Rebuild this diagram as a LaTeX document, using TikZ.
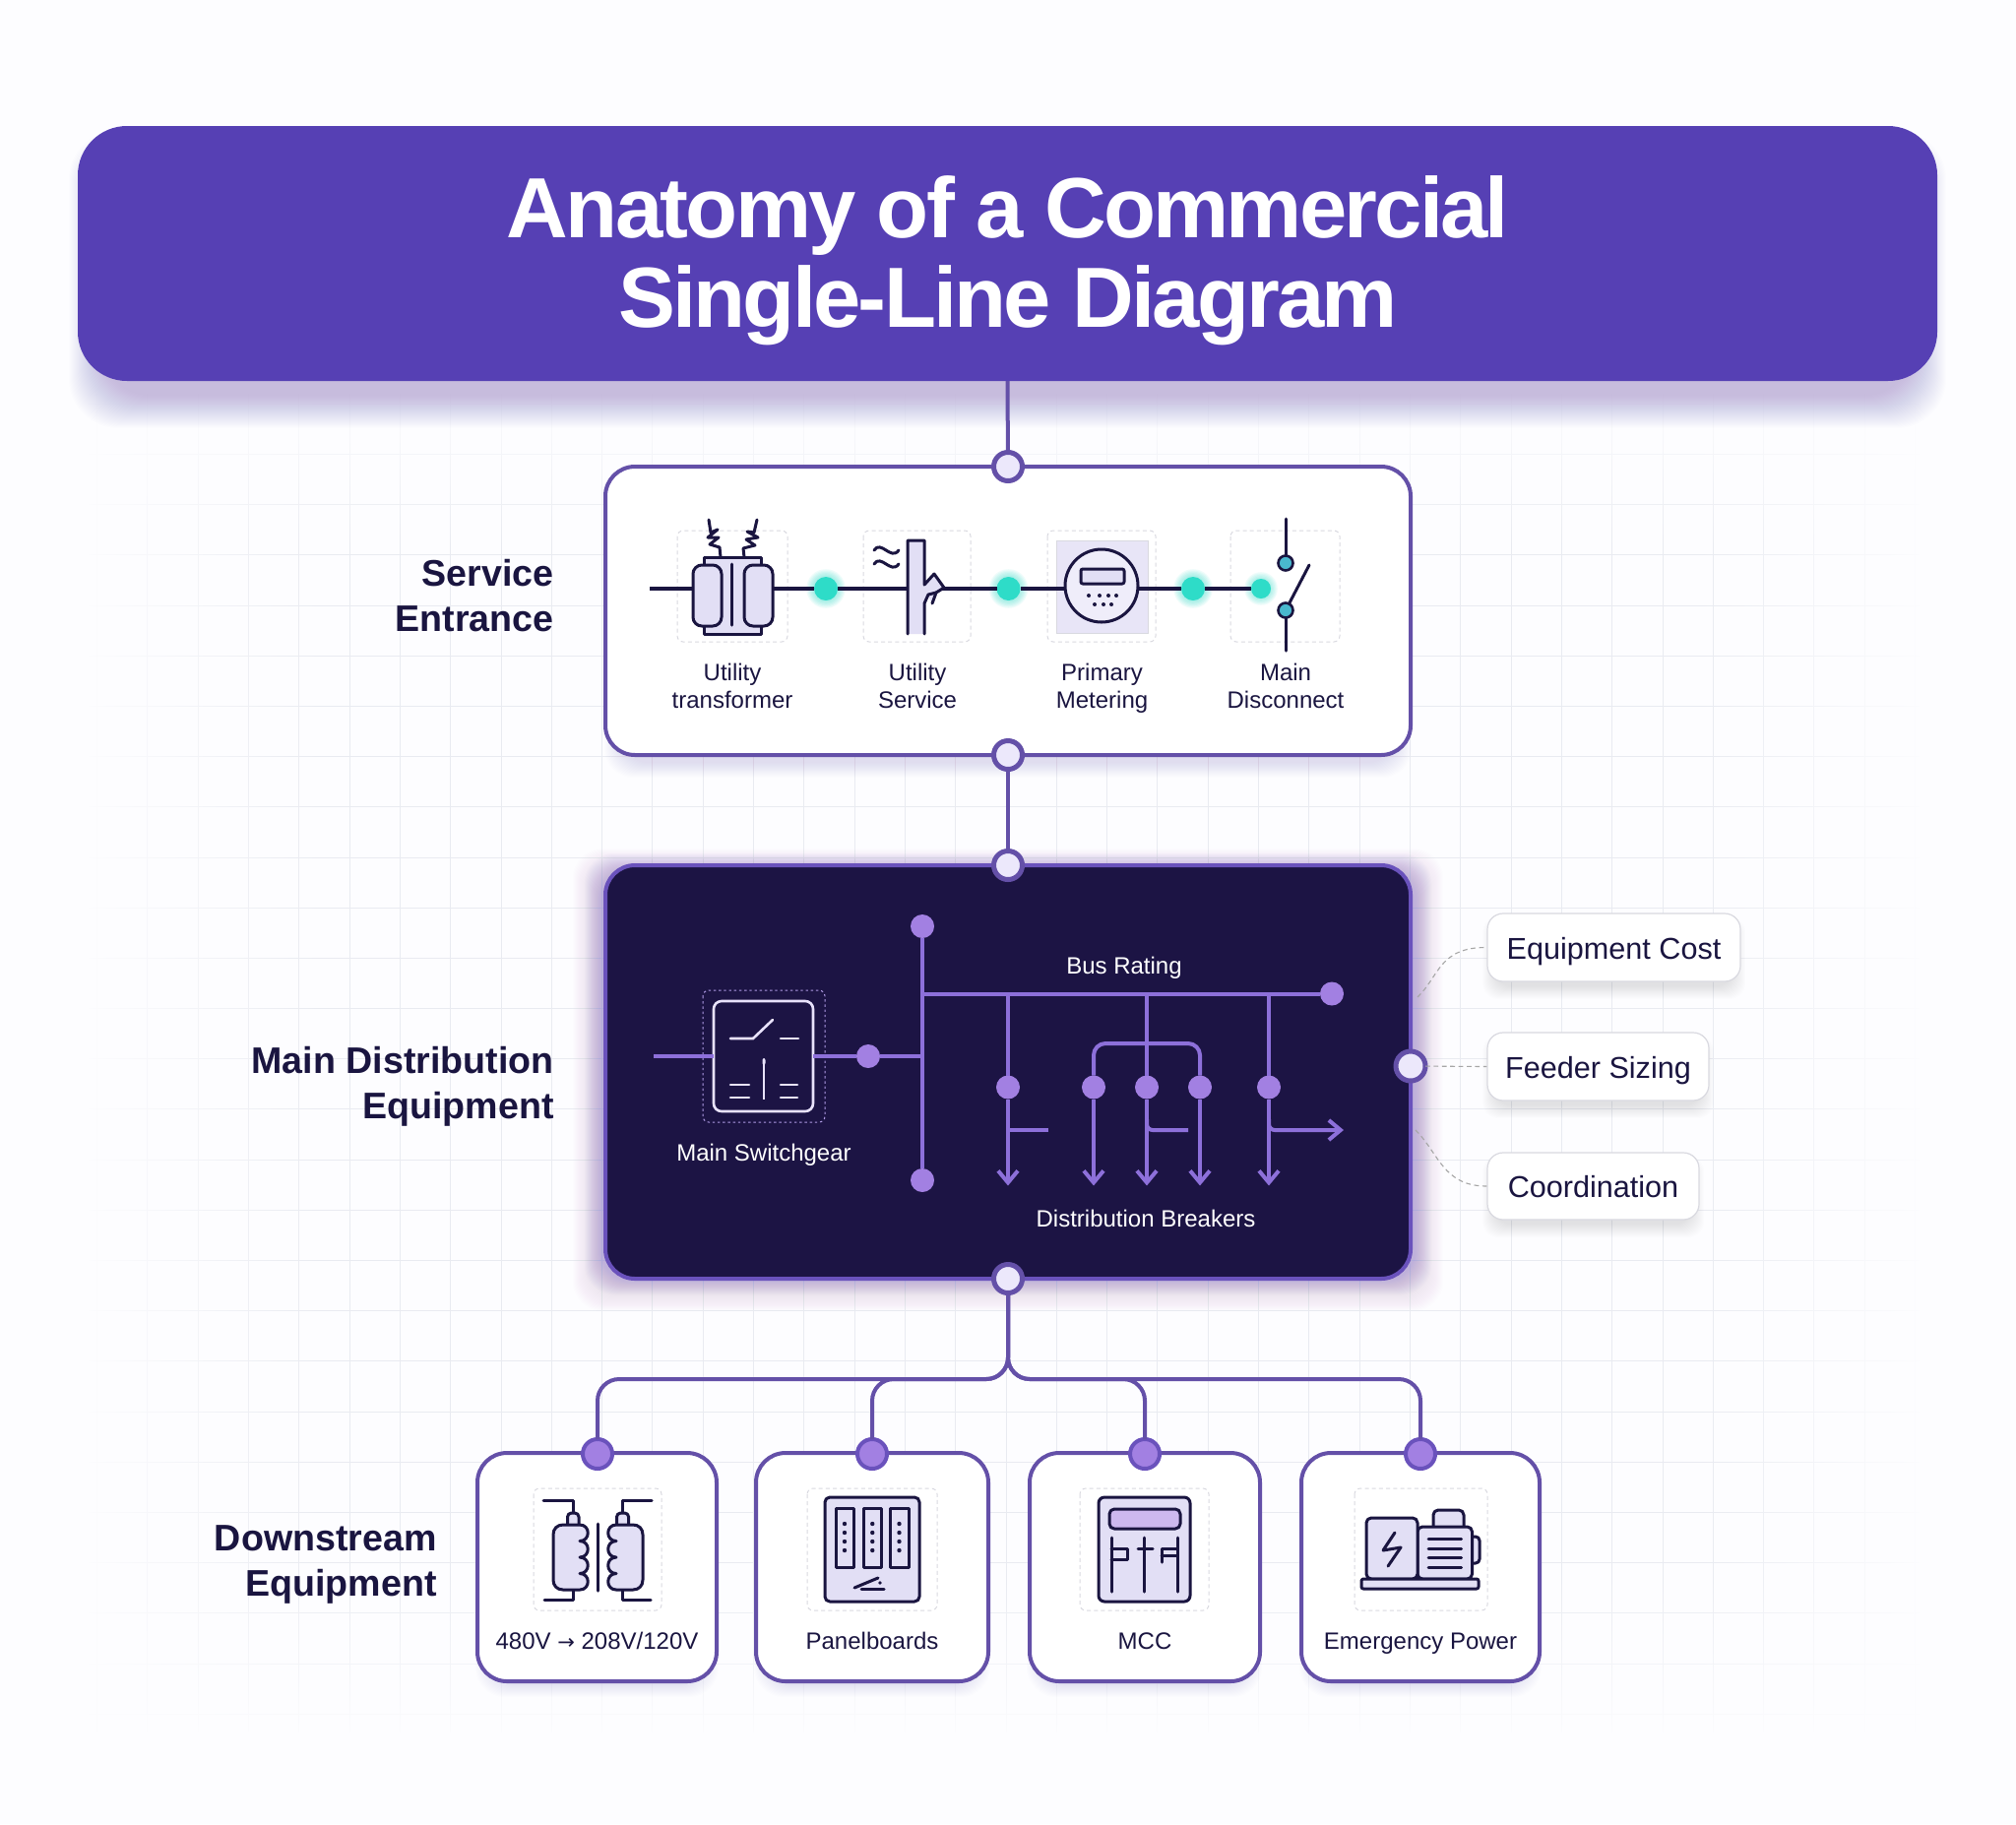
\documentclass[tikz,border=0pt]{standalone}
\usepackage{fontspec}
\setmainfont{Liberation Sans}
\newfontfamily\titlefont[LetterSpace=-3.2]{Liberation Sans Bold}
\newfontfamily\arrowfont{DejaVu Sans}
\usetikzlibrary{arrows.meta,fadings,calc}
\definecolor{PageBg}{HTML}{FDFDFF}
\definecolor{GridC}{HTML}{E9EBF1}
\definecolor{TitleC}{HTML}{5640B4}
\definecolor{Ink}{HTML}{1A1540}
\definecolor{Edge}{HTML}{6450A8}
\definecolor{EdgeB}{HTML}{6A52BC}
\definecolor{DarkC}{HTML}{1C1444}
\definecolor{Plum}{HTML}{8D70DA}
\definecolor{DotC}{HTML}{A280E2}
\definecolor{Lilac}{HTML}{E2DFF5}
\definecolor{LilacB}{HTML}{EFEDFA}
\definecolor{Teal}{HTML}{2EDCC8}
\definecolor{SkyC}{HTML}{49B8CE}
\definecolor{FrameC}{HTML}{D9D9E0}
\definecolor{PortC}{HTML}{ECE8FB}
\definecolor{SoftW}{HTML}{E8E2FB}
\definecolor{BarC}{HTML}{CDB8EF}
\tikzset{
  x=0.5pt,y=-0.5pt,
  panel/.style={rectangle,draw=Edge,fill=white,line width=2pt,rounded corners=15pt,inner sep=0pt,outer sep=0pt},
  chip/.style={rectangle,draw=FrameC,fill=white,line width=.6pt,rounded corners=8pt,inner sep=0pt,text=Ink,text height=17.3pt,text depth=5.5pt,font=\fontsize{15.3}{18}\selectfont},
  port/.style={circle,fill=PortC,draw=Edge,line width=2.5pt,minimum size=14.5pt,inner sep=0pt,outer sep=0pt},
  dport/.style={circle,fill=DotC,draw=EdgeB,line width=2pt,minimum size=15pt,inner sep=0pt,outer sep=0pt},
  tealdot/.style={circle,fill=Teal,minimum size=12pt,inner sep=0pt,outer sep=0pt},
  pdot/.style={circle,fill=DotC,minimum size=12pt,inner sep=0pt,outer sep=0pt},
  wire/.style={draw=Ink,line width=1.6pt},
  pline/.style={draw=Plum,line width=2pt},
  treeline/.style={draw=Edge,line width=2pt},
  icon/.style={draw=Ink,line width=1.5pt,line join=round,line cap=round},
  iconfill/.style={icon,fill=Lilac},
  softline/.style={draw=SoftW,line width=1.3pt,line cap=round},
  frame/.style={draw=FrameC,line width=.5pt,dash pattern=on 2pt off 1.6pt,rounded corners=3pt},
  lead/.style={draw=black!35!white,line width=.55pt,dash pattern=on 2.4pt off 1.8pt},
  slabel/.style={inner sep=0pt,text=Ink,align=center,font=\fontsize{12}{14}\selectfont},
  dlabel/.style={inner sep=0pt,text=white,align=center,font=\fontsize{12}{14}\selectfont},
  sechead/.style={inner sep=0pt,text=Ink,align=right,anchor=east,font=\fontsize{18.8}{23}\selectfont\bfseries},
}
\newcommand{\softbox}[9]{%
  \foreach \k in {1,...,#7}{%
    \path[fill=#6,fill opacity=#8,rounded corners=#5pt]
      ({#1-\k},{#2-\k+#9}) rectangle ({#3+\k},{#4+\k+#9});}}
\newcommand{\halo}[4]{%
  \foreach \k in {1,...,6}{\path[fill=#4,fill opacity=.08] (#1,#2) circle ({#3+\k*1.3});}}
\newcommand{\ls}{\strut}
\begin{document}
\begin{tikzpicture}
\useasboundingbox (0,0) rectangle (2048,1853);
\fill[PageBg] (0,0) rectangle (2048,1853);

% grid
\foreach \k in {-27,...,9}{\pgfmathsetmacro{\gx}{round(1483.3+51.3*\k)+.5}\draw[GridC,line width=.75pt] (\gx,400) -- (\gx,1760);}
\foreach \k in {-10,...,16}{\pgfmathsetmacro{\gy}{round(921.7+51.2*\k)+.5}\draw[GridC,line width=.75pt] (90,\gy) -- (1950,\gy);}
\fill[PageBg,path fading=east] (80,390) rectangle (330,1770);
\fill[PageBg,path fading=west] (1720,390) rectangle (1960,1770);
\fill[PageBg,path fading=south] (80,390) rectangle (1960,560);
\fill[PageBg,path fading=north] (80,1600) rectangle (1960,1770);

% shadows
\softbox{104}{140}{1943}{375}{25}{TitleC}{34}{.006}{26}
\softbox{630}{490}{1418}{760}{15}{Edge}{16}{.009}{14}
\softbox{612}{882}{1436}{1292}{15}{Plum}{30}{.007}{10}
\softbox{610}{880}{1438}{1296}{15}{Plum}{16}{.025}{3}
\softbox{497}{1490}{716}{1700}{15}{Edge}{14}{.009}{10}
\softbox{780}{1490}{992}{1700}{15}{Edge}{14}{.009}{10}
\softbox{1057}{1490}{1268}{1700}{15}{Edge}{14}{.009}{10}
\softbox{1334}{1490}{1552}{1700}{15}{Edge}{14}{.009}{10}
\softbox{1520}{936}{1759}{992}{8}{black}{14}{.006}{9}
\softbox{1520}{1057}{1727}{1113}{8}{black}{14}{.006}{9}
\softbox{1520}{1179}{1717}{1234}{8}{black}{14}{.006}{9}

% title
\node[rectangle,fill=TitleC,rounded corners=25pt,minimum width=944.5pt,minimum height=129.5pt,inner sep=0pt,outer sep=0pt] (title) at (1023.5,257.5) {};
\node[inner sep=0pt,text=white,anchor=base] (titleA) at (1024,241) {\titlefont\fontsize{43.4}{50}\selectfont Anatomy of a Commercial};
\node[inner sep=0pt,text=white,anchor=base] (titleB) at (1024,332) {\titlefont\fontsize{43.4}{50}\selectfont Single-Line Diagram};

% panels
\node[panel,minimum width=409pt,minimum height=146.5pt] (service) at (1024,620.5) {};
\node[panel,draw=EdgeB,fill=DarkC,minimum width=409pt,minimum height=210pt] (main) at (1024,1089) {};
\node[panel,minimum width=121.5pt,minimum height=116pt] (card1) at (606.5,1592) {};
\node[panel,minimum width=118pt,minimum height=116pt] (card2) at (886,1592) {};
\node[panel,minimum width=117pt,minimum height=116pt] (card3) at (1163,1592) {};
\node[panel,minimum width=121pt,minimum height=116pt] (card4) at (1443,1592) {};

% ports and connectors between sections
\node[port] (pS1) at (service.north) {};
\node[port] (pS2) at (service.south) {};
\node[port] (pM1) at (main.north) {};
\node[port] (pM2) at (main.south) {};
\node[port,minimum size=15pt] (pM3) at (1433,1083) {};
\coordinate (titleb) at (title.south);
\draw[treeline] (titleb) -- (pS1);
\draw[treeline] (pS2) -- (pM1);
\node[dport] (d1) at (607,1477) {};
\node[dport] (d2) at (886,1477) {};
\node[dport] (d3) at (1163,1477) {};
\node[dport] (d4) at (1443,1477) {};
\coordinate (hub) at (1024,1401);
\draw[treeline,rounded corners=11pt] (pM2) -- (hub) -| (d1);
\draw[treeline,rounded corners=11pt] (pM2) -- (hub) -| (d2);
\draw[treeline,rounded corners=11pt] (pM2) -- (hub) -| (d3);
\draw[treeline,rounded corners=11pt] (pM2) -- (hub) -| (d4);

% section headings
\node[sechead] (hs) at (563,605) {Service\\Entrance};
\node[sechead] (hm) at (563,1104) {Main Distribution\\Equipment};
\node[sechead] (hd) at (444,1589) {Downstream\\Equipment};

% --- service entrance
\draw[frame] (688,539) rectangle (800,652);
\draw[frame] (877,539) rectangle (986,652);
\draw[frame] (1064,539) rectangle (1174,652);
\draw[frame] (1250,539) rectangle (1361,652);
\fill[Lilac!80!white] (1073,549) rectangle (1166,643);
\draw[FrameC,line width=.4pt] (1073,549) rectangle (1166,643);
\halo{839}{598}{12}{Teal}
\halo{1024.5}{598}{12}{Teal}
\halo{1212}{598}{12}{Teal}
\halo{1281}{598}{9}{Teal}
\node[tealdot] (t1) at (839,598) {};
\node[tealdot] (t2) at (1024.5,598) {};
\node[tealdot] (t3) at (1212,598) {};
\node[tealdot,minimum size=10pt] (t4) at (1281,598) {};
\coordinate (w0) at (660,598);
\draw[wire] (w0) -- (t1) -- (t2) -- (t3) -- (t4);
% transformer
\draw[icon] (720,528) -- (722,541) -- (729,538) -- (719,546) -- (730,546) -- (721,553) -- (731,556) -- (732,566);
\draw[icon] (769,528) -- (766,541) -- (759,540) -- (770,546) -- (758,548) -- (767,554) -- (755,557) -- (756,566);
\filldraw[iconfill] (715,566) rectangle (773,644);
\filldraw[iconfill,rounded corners=4.5pt] (704,574) rectangle (733,636);
\filldraw[iconfill,rounded corners=4.5pt] (756,574) rectangle (785,636);
\draw[icon] (743,573) -- (743,635);
% pole
\fill[Lilac] (922,644) -- (922,549) -- (939,549) -- (939,594) -- (949,583) -- (959,597) -- (951,602) -- (947,613) -- (943,606) -- (939,613) -- (939,644) -- cycle;
\draw[icon] (922,644) -- (922,549) -- (939,549) -- (939,594) -- (949,583) -- (959,597) -- (951,602) -- (947,613);
\draw[icon] (939,644) -- (939,613) -- (943,604) -- (951,602);
\draw[icon] (888,559) .. controls (895,548) and (905,570) .. (913,559);
\draw[icon] (888,573) .. controls (895,562) and (905,584) .. (913,573);
% meter
\filldraw[icon,fill=LilacB] (1119,595) circle (37);
\filldraw[iconfill,rounded corners=1pt] (1098,578) rectangle (1142,593);
\foreach \p in {1106,1117,1126,1134}{\fill[Ink] (\p,605) circle (2);}
\foreach \p in {1112,1121,1129}{\fill[Ink] (\p,614) circle (2);}
% disconnect
\node[circle,fill=SkyC,draw=Ink,line width=1.3pt,minimum size=7.5pt,inner sep=0pt,outer sep=0pt] (s1) at (1306,572) {};
\node[circle,fill=SkyC,draw=Ink,line width=1.3pt,minimum size=7.5pt,inner sep=0pt,outer sep=0pt] (s2) at (1306,620) {};
\coordinate (sa) at (1306,527);
\coordinate (sb) at (1306,661);
\coordinate (sc) at (1330,574);
\draw[icon] (sa) -- (s1);
\draw[icon] (s2) -- (sb);
\draw[icon] (s2) -- (sc);
\node[slabel] (l1) at (744,700) {Utility\ls\\transformer\ls};
\node[slabel] (l2) at (932,700) {Utility\ls\\Service\ls};
\node[slabel] (l3) at (1119.5,700) {Primary\ls\\Metering\ls};
\node[slabel] (l4) at (1306,700) {Main\ls\\Disconnect\ls};

% --- main distribution
\draw[draw=Plum!70!white,line width=.5pt,dash pattern=on 1.2pt off 1.4pt,rounded corners=3pt] (714,1006) rectangle (838,1140);
\node[rectangle,draw=SoftW,fill=DarkC,line width=1.3pt,rounded corners=4pt,minimum width=50.5pt,minimum height=56pt,inner sep=0pt,outer sep=0pt] (sg) at (775.5,1073) {};
\node[pdot] (sd) at (882,1073) {};
\node[pdot] (vt) at (937,941) {};
\node[pdot] (vb) at (937,1199) {};
\node[pdot] (he) at (1353,1009.5) {};
\coordinate (m0) at (664,1073);
\coordinate (j1) at (937,1009.5);
\coordinate (j2) at (937,1073);
\draw[pline] (m0) -- (sg);
\draw[pline] (sg) -- (sd) -- (j2);
\draw[pline] (vt) -- (vb);
\draw[pline] (j1) -- (he);
\node[pdot] (bd1) at (1024,1104.5) {};
\node[pdot] (bdL) at (1111,1104.5) {};
\node[pdot] (bdC) at (1165,1104.5) {};
\node[pdot] (bdR) at (1219,1104.5) {};
\node[pdot] (bd4) at (1289,1104.5) {};
\coordinate (tp1) at (1024,1009.5);
\coordinate (tpC) at (1165,1009.5);
\coordinate (tp4) at (1289,1009.5);
\coordinate (tb) at (1165,1060);
\draw[pline] (tp1) -- (bd1);
\draw[pline] (tpC) -- (bdC);
\draw[pline] (tp4) -- (bd4);
\draw[pline,rounded corners=6pt] (bdL) |- (tb) -| (bdR);
\foreach \n/\xx in {bd1/1024,bdL/1111,bdC/1165,bdR/1219,bd4/1289}{
  \coordinate (ar\n) at (\xx,1204.5);
  \draw[pline,-{Straight Barb[length=6pt,width=10pt]}] (\n) -- (ar\n);
}
\coordinate (sb1a) at (1024,1148);
\coordinate (sb1b) at (1065,1148);
\coordinate (sb2a) at (1165,1137);
\coordinate (sb2b) at (1207,1148);
\coordinate (sb3a) at (1289,1137);
\coordinate (sb3b) at (1365,1148);
\draw[pline] (sb1a) -- (sb1b);
\draw[pline,rounded corners=3pt] (sb2a) |- (sb2b);
\draw[pline,rounded corners=3pt,-{Straight Barb[length=6pt,width=10pt]}] (sb3a) |- (sb3b);
\draw[softline] (742,1055) -- (765,1055) -- (785,1036);
\draw[softline] (793,1055) -- (811,1055);
\draw[SoftW,line width=1pt] (776,1080) -- (776,1117);
\fill[SoftW,rounded corners=1pt] (774.5,1075) rectangle (777.5,1082);
\draw[softline] (742,1102) -- (761,1102);
\draw[softline] (793,1102) -- (810,1102);
\draw[softline] (742,1115) -- (761,1115);
\draw[softline] (793,1115) -- (810,1115);
\node[dlabel] (lsg) at (776,1173.5) {Main Switchgear\ls};
\node[dlabel] (lbr) at (1142,983.5) {Bus Rating\ls};
\node[dlabel] (ldb) at (1164,1241) {Distribution Breakers\ls};

% --- side chips
\node[chip,minimum width=128.5pt,minimum height=34.5pt] (c1) at (1639.5,962.5) {Equipment Cost};
\node[chip,minimum width=112.5pt,minimum height=34.5pt] (c2) at (1623.5,1083.5) {Feeder Sizing};
\node[chip,minimum width=107.5pt,minimum height=34pt] (c3) at (1618.5,1205) {Coordination};
\coordinate (e1) at (1440,1013);
\coordinate (e3) at (1438,1148);
\draw[lead] (e1) .. controls (1462,992) and (1462,962) .. (c1.west);
\draw[lead] (pM3) -- (c2.west);
\draw[lead] (e3) .. controls (1462,1172) and (1466,1205) .. (c3.west);

% --- downstream cards
\draw[frame] (542,1512) rectangle (672,1636);
\draw[frame] (820,1512) rectangle (952,1636);
\draw[frame] (1097,1512) rectangle (1228,1636);
\draw[frame] (1376,1512) rectangle (1511,1636);
% card 1
\draw[icon] (552,1524) -- (582,1524) -- (582,1537);
\draw[icon] (553,1625) -- (582,1625) -- (582,1615);
\draw[icon] (662,1524) -- (632,1524) -- (632,1537);
\draw[icon] (661,1625) -- (632,1625) -- (632,1615);
\filldraw[iconfill,rounded corners=2pt] (576.5,1549) -- (576.5,1537) -- (588,1537) -- (588,1549);
\filldraw[iconfill,rounded corners=2pt] (626.5,1549) -- (626.5,1537) -- (638.6,1537) -- (638.6,1549);
\filldraw[iconfill] (589,1615) -- (572,1615) .. controls (566,1615) and (562,1611) .. (562,1605) -- (562,1559) .. controls (562,1553) and (566,1549) .. (572,1549) -- (589,1549)
  .. controls (600,1549) and (600,1565.5) .. (589,1565.5) .. controls (600,1565.5) and (600,1582) .. (589,1582)
  .. controls (600,1582) and (600,1598.5) .. (589,1598.5) .. controls (600,1598.5) and (600,1615) .. (589,1615) -- cycle;
\filldraw[iconfill] (626,1615) -- (643,1615) .. controls (649,1615) and (653,1611) .. (653,1605) -- (653,1559) .. controls (653,1553) and (649,1549) .. (643,1549) -- (626,1549)
  .. controls (615,1549) and (615,1565.5) .. (626,1565.5) .. controls (615,1565.5) and (615,1582) .. (626,1582)
  .. controls (615,1582) and (615,1598.5) .. (626,1598.5) .. controls (615,1598.5) and (615,1615) .. (626,1615) -- cycle;
\draw[icon] (607.6,1548) -- (607.6,1616);
% card 2
\filldraw[iconfill,rounded corners=2.5pt] (838,1521) rectangle (934,1627);
\foreach \a/\b in {849/867,877/895.5,904/923}{
  \filldraw[iconfill] (\a,1532) rectangle (\b,1592);
  \foreach \yy in {1548,1557,1566,1575}{\fill[Ink] ({(\a+\b)/2},\yy) circle (2.2);}
}
\draw[icon] (868,1613) -- (892,1603);
\draw[icon] (875,1614.5) -- (898,1614.5);
\fill[Ink] (894,1608) circle (1.8);
% card 3
\filldraw[iconfill,rounded corners=3pt] (1116,1521) rectangle (1209,1627);
\filldraw[icon,fill=BarC,rounded corners=2.5pt] (1127,1533) rectangle (1199,1553);
\foreach \xx in {1129,1162,1196}{\draw[icon] (\xx,1562) -- (\xx,1617);}
\draw[icon] (1129,1573) -- (1145,1573) -- (1145,1584) -- (1129,1584);
\draw[icon] (1156,1573) -- (1171,1573);
\draw[icon] (1196,1573) -- (1180,1573) -- (1180,1587);
\draw[icon] (1180,1580) -- (1196,1580);
% card 4
\filldraw[iconfill,rounded corners=2.5pt] (1456,1552) -- (1456,1534) -- (1487,1534) -- (1487,1552);
\filldraw[iconfill,rounded corners=2pt] (1495,1561) -- (1503,1561) -- (1503,1588) -- (1495,1588);
\filldraw[iconfill,rounded corners=2.5pt] (1440,1604) -- (1440,1551) -- (1495.5,1551) -- (1495.5,1604) -- cycle;
\filldraw[iconfill,rounded corners=2.5pt] (1388,1604) -- (1388,1542) -- (1440,1542) -- (1440,1604) -- cycle;
\filldraw[iconfill,rounded corners=1pt] (1383,1604) rectangle (1502,1614);
\foreach \yy in {1563,1573,1582,1592}{\draw[icon] (1451,\yy) -- (1484.5,\yy);}
\draw[icon] (1417,1557) -- (1405,1575) -- (1423,1572) -- (1410,1591);
\node[slabel] (lc1) at (606.5,1669.5) {480V {\arrowfont\fontsize{10.5}{14}\selectfont →} 208V/120V\ls};
\node[slabel] (lc2) at (886,1669.5) {Panelboards\ls};
\node[slabel] (lc3) at (1163,1669.5) {MCC\ls};
\node[slabel] (lc4) at (1443,1669.5) {Emergency Power\ls};
\end{tikzpicture}
\end{document}
